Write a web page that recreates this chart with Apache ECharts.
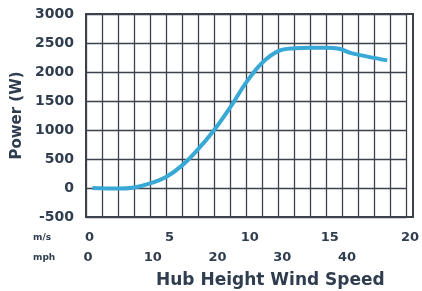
<!DOCTYPE html>
<html>
<head>
    <meta charset="UTF-8">
    <title>Power curve</title>
    <style>
        html, body { margin: 0; padding: 0; background: #fff; }
        #chart { width: 422px; height: 291px; }
    </style>
    <script src="https://cdn.jsdelivr.net/npm/echarts@6/dist/echarts.min.js"></script>
</head>
<body>
<div id="chart"></div>
<script type="text/javascript">
    // wind speed (m/s) and power output (W)
    var speed = [0.4, 1, 2, 3, 4, 5, 6, 7, 8, 9, 10, 11, 12, 13, 14, 15, 15.8, 16.5, 17.5, 18.8];
    var power = [0, -5, -10, 10, 80, 190, 390, 670, 1000, 1390, 1820, 2160, 2360, 2410, 2420, 2420, 2400, 2330, 2270, 2200];
    var msTicks = [0, 5, 10, 15, 20];
    var mphTicks = [0, 10, 20, 30, 40];

    var textColor = '#2f3d4f';
    var gridColor = '#3b424c';
    var font = 'DejaVu Sans';

    var pts = [];
    for (var i = 0; i < speed.length; i++) {
        pts.push([speed[i], power[i]]);
    }

    var chart = echarts.init(document.getElementById('chart'));

    var option = {
        animation: false,
        grid: { left: 86, right: 9, top: 14, bottom: 74 },
        xAxis: [{
            type: 'value',
            min: 0,
            max: 20,
            interval: 1,
            axisLine: { show: true, onZero: false, lineStyle: { color: gridColor, width: 2 } },
            axisTick: { show: false },
            splitLine: { show: true, lineStyle: { color: gridColor, width: 1.3 } },
            axisLabel: {
                margin: 14,
                padding: [0, 0, 0, 7],
                color: textColor,
                fontFamily: font,
                fontWeight: 'bold',
                fontSize: 13,
                formatter: function (v) {
                    return msTicks.indexOf(v) >= 0 ? String(v) : '';
                }
            }
        }, {
            type: 'value',
            position: 'bottom',
            offset: 20,
            min: 0,
            max: 49.5,
            interval: 10,
            axisLine: { show: false, onZero: false },
            axisTick: { show: false },
            splitLine: { show: false },
            axisLabel: {
                margin: 14,
                padding: [0, 0, 0, 4],
                color: textColor,
                fontFamily: font,
                fontWeight: 'bold',
                fontSize: 13,
                showMaxLabel: false,
                formatter: function (v) {
                    return mphTicks.indexOf(v) >= 0 ? String(v) : '';
                }
            }
        }],
        yAxis: {
            type: 'value',
            min: -500,
            max: 3000,
            interval: 500,
            name: 'Power (W)',
            nameLocation: 'middle',
            nameGap: 54,
            nameTextStyle: { color: textColor, fontFamily: font, fontWeight: 'bold', fontSize: 15 },
            axisLine: { show: true, lineStyle: { color: gridColor, width: 2 } },
            axisTick: { show: false },
            splitLine: { show: true, lineStyle: { color: gridColor, width: 1.3 } },
            axisLabel: {
                margin: 12,
                color: textColor,
                fontFamily: font,
                fontWeight: 'bold',
                fontSize: 14,
                formatter: function (v) { return String(v); }
            }
        },
        graphic: [
            { type: 'rect', shape: { x: 86, y: 14, width: 327, height: 203 }, style: { fill: 'none', stroke: gridColor, lineWidth: 2 }, z: 10 },
            { type: 'text', left: 33, top: 233, style: { text: 'm/s', fill: textColor, font: 'bold 9px DejaVu Sans' } },
            { type: 'text', left: 33, top: 253, style: { text: 'mph', fill: textColor, font: 'bold 9px DejaVu Sans' } },
            { type: 'text', left: 156, top: 272, style: { text: 'Hub Height Wind Speed', fill: textColor, font: 'bold 17px DejaVu Sans' } }
        ],
        series: [{
            type: 'line',
            xAxisIndex: 0,
            data: pts,
            smooth: 0.4,
            showSymbol: false,
            lineStyle: { color: '#38a9d6', width: 4 }
        }]
    };

    chart.setOption(option);
</script>
</body>
</html>
